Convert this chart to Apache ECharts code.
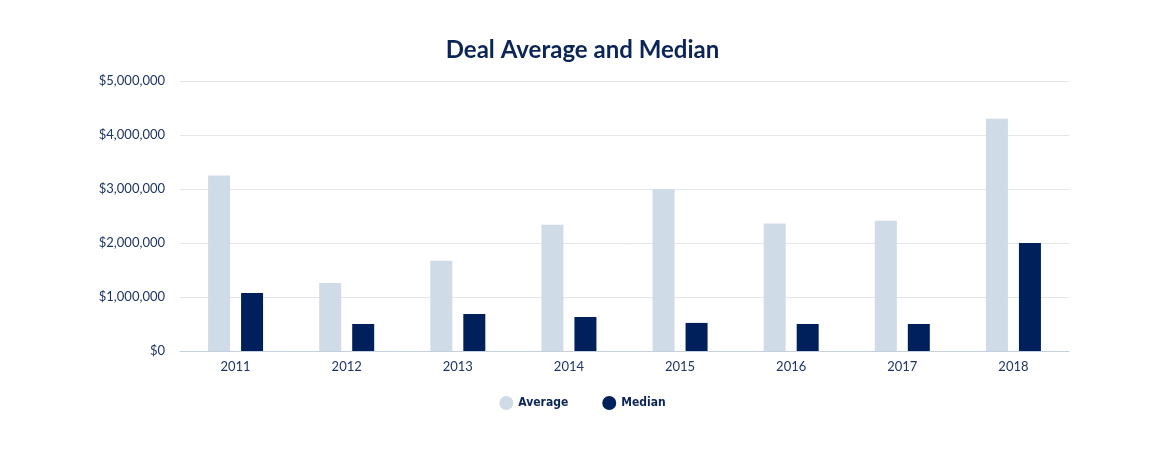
<!DOCTYPE html>
<html>
<head>
<meta charset="utf-8">
<script src="https://cdn.jsdelivr.net/npm/echarts@6/dist/echarts.min.js"></script>
<style>
	html, body { margin: 0; padding: 0; background: #ffffff; }
	#chart { width: 1165px; height: 460px; }
</style>
</head>
<body>
<div id="chart"></div>
<script>
var years = ['2011', '2012', '2013', '2014', '2015', '2016', '2017', '2018'];
var averageData = [3250000, 1260000, 1670000, 2340000, 3000000, 2360000, 2410000, 4300000];
var medianData = [1075000, 500000, 685000, 630000, 520000, 500000, 500000, 2000000];

var navy = '#0c2557';
var textColor = '#1f3563';

var chart = echarts.init(document.getElementById('chart'));
var option = {
	title: {
		text: 'Deal Average and Median',
		left: 'center',
		top: 33,
		textStyle: {
			color: navy,
			fontFamily: 'Lato',
			fontWeight: 'bold',
			fontSize: 24
		}
	},
	legend: {
		bottom: 45,
		left: 'center',
		icon: 'circle',
		itemWidth: 14,
		itemHeight: 14,
		itemGap: 34,
		data: ['Average', 'Median'],
		textStyle: {
			color: navy,
			fontFamily: 'DejaVu Sans Condensed',
			fontWeight: 'bold',
			fontSize: 12
		}
	},
	grid: {
		left: 180,
		right: 96,
		top: 81,
		bottom: 109
	},
	xAxis: {
		type: 'category',
		data: years,
		axisLine: { lineStyle: { color: '#c5d0dc' } },
		axisTick: { length: 8, lineStyle: { color: '#c5d0dc' } },
		axisLabel: {
			color: textColor,
			fontFamily: 'Lato',
			fontSize: 13,
			margin: 9
		}
	},
	yAxis: {
		type: 'value',
		min: 0,
		max: 5000000,
		interval: 1000000,
		axisLine: { show: false },
		axisTick: { show: false },
		splitLine: { lineStyle: { color: '#e3e5e8' } },
		axisLabel: {
			color: textColor,
			fontFamily: 'Lato',
			fontSize: 13,
			margin: 15,
			formatter: function(v) {
				return '$' + v.toLocaleString('en-US');
			}
		}
	},
	series: [{
		name: 'Average',
		type: 'bar',
		data: averageData,
		barWidth: 22,
		barGap: '50%',
		itemStyle: { color: '#cfdbe6' }
	}, {
		name: 'Median',
		type: 'bar',
		data: medianData,
		barWidth: 22,
		itemStyle: { color: '#00205b' }
	}]
};
chart.setOption(option);
</script>
</body>
</html>
